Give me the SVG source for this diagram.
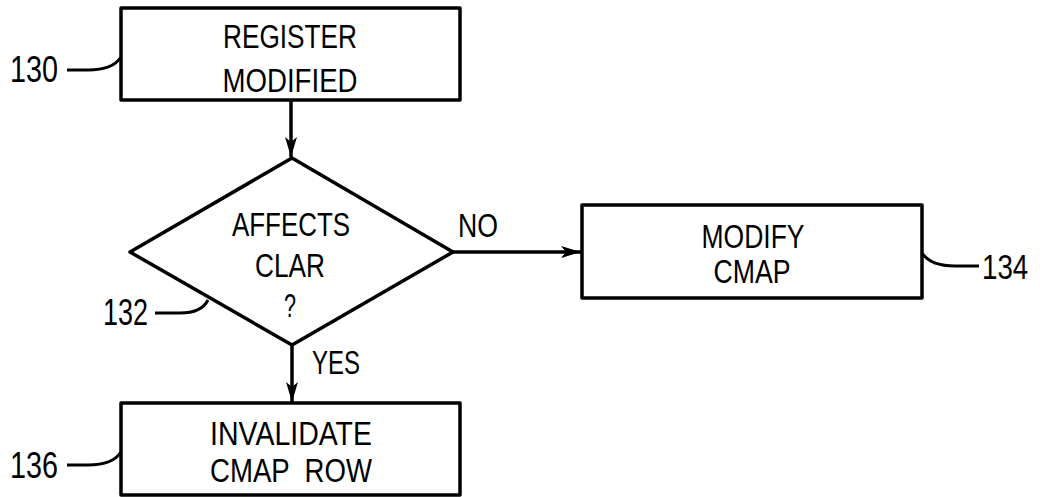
<svg xmlns="http://www.w3.org/2000/svg" width="1040" height="497" viewBox="0 0 1040 497">
<style>
.box{fill:#fff;stroke:#000;stroke-width:3.5;stroke-linejoin:round}
.t{font-family:"Liberation Sans",Arial,sans-serif;font-size:33px;fill:#000;text-anchor:middle}
.lbl{font-family:"Liberation Sans",Arial,sans-serif;font-size:33px;fill:#000}
.ref{font-family:"Liberation Sans",Arial,sans-serif;font-size:36px;fill:#000}
.lead{fill:none;stroke:#000;stroke-width:3}
.conn{fill:none;stroke:#000;stroke-width:3.5}
</style>
<defs>
<marker id="ah" markerUnits="userSpaceOnUse" markerWidth="22" markerHeight="14" refX="20" refY="7" orient="auto">
<path d="M0,1 L20,7 L0,13 L5,7 z" fill="#000"/>
</marker>
</defs>
<g id="connectors">
<line class="conn" x1="291" y1="100" x2="291" y2="157" marker-end="url(#ah)"/>
<line class="conn" x1="453" y1="252" x2="581" y2="252" marker-end="url(#ah)"/>
<line class="conn" x1="292" y1="345" x2="292" y2="402" marker-end="url(#ah)"/>
<text class="lbl" x="458" y="237" textLength="40" lengthAdjust="spacingAndGlyphs">NO</text>
<text class="lbl" x="312" y="374" textLength="48" lengthAdjust="spacingAndGlyphs">YES</text>
</g>
<g id="n130">
<rect class="box" x="121" y="8" width="339" height="92"/>
<text class="t" x="290" y="48" textLength="134" lengthAdjust="spacingAndGlyphs">REGISTER</text>
<text class="t" x="290" y="92" textLength="135" lengthAdjust="spacingAndGlyphs">MODIFIED</text>
<path class="lead" d="M67,70 L88,70 C105,70 116,65 121,57"/>
<text class="ref" x="10" y="82" textLength="48" lengthAdjust="spacingAndGlyphs">130</text>
</g>
<g id="n132">
<polygon class="box" points="292,158 453,252 292,345 130,252"/>
<text class="t" x="291" y="236" textLength="118" lengthAdjust="spacingAndGlyphs">AFFECTS</text>
<text class="t" x="290" y="277" textLength="70" lengthAdjust="spacingAndGlyphs">CLAR</text>
<text class="t" x="290" y="317" textLength="12" lengthAdjust="spacingAndGlyphs">?</text>
<path class="lead" d="M155,313 L180,313 C195,313 204,308 208,300"/>
<text class="ref" x="103" y="325" textLength="45" lengthAdjust="spacingAndGlyphs">132</text>
</g>
<g id="n134">
<rect class="box" x="582" y="205" width="340" height="93"/>
<text class="t" x="753" y="248" textLength="103" lengthAdjust="spacingAndGlyphs">MODIFY</text>
<text class="t" x="752" y="283" textLength="77" lengthAdjust="spacingAndGlyphs">CMAP</text>
<path class="lead" d="M922,253 C928,262 940,266 955,266 L979,266"/>
<text class="ref" transform="translate(982,279) scale(0.77,1)" x="0" y="0">134</text>
</g>
<g id="n136">
<rect class="box" x="121" y="403" width="339" height="92"/>
<text class="t" x="291" y="445" textLength="162" lengthAdjust="spacingAndGlyphs">INVALIDATE</text>
<text class="t" x="291" y="482" textLength="162" lengthAdjust="spacingAndGlyphs" xml:space="preserve">CMAP  ROW</text>
<path class="lead" d="M67,465 L88,465 C105,465 116,460 121,452"/>
<text class="ref" x="10" y="478" textLength="48" lengthAdjust="spacingAndGlyphs">136</text>
</g>
</svg>
